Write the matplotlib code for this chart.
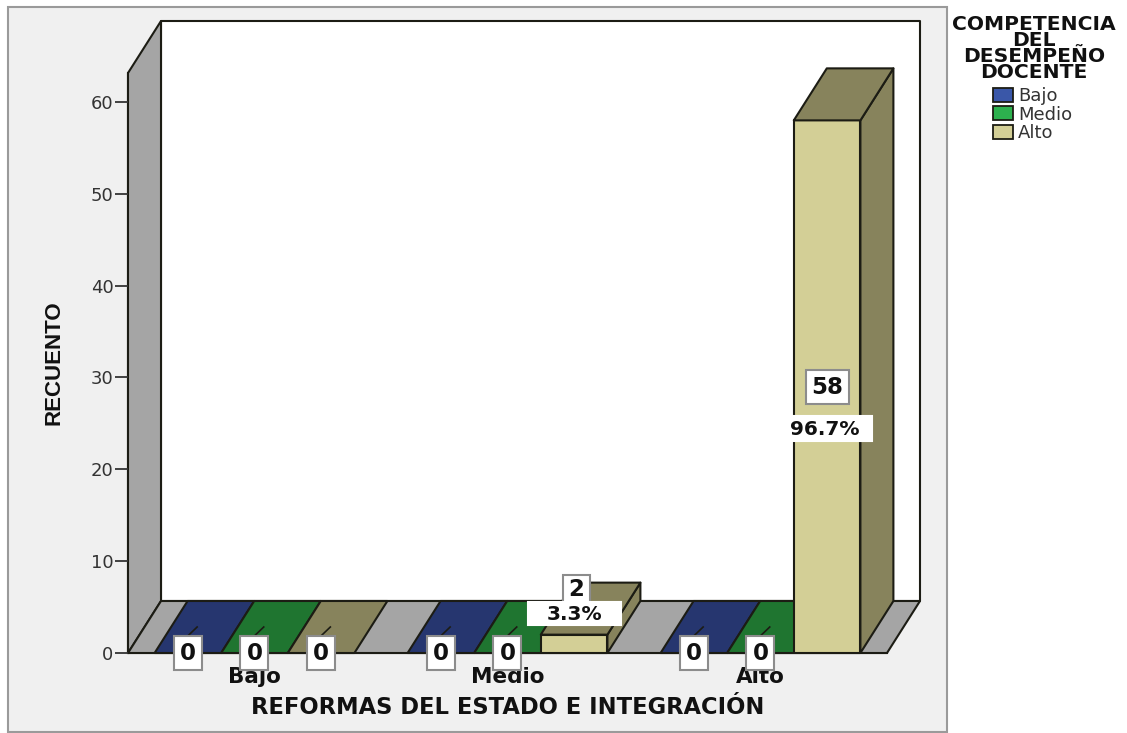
import matplotlib
matplotlib.use("Agg")
import matplotlib.pyplot as plt
from matplotlib.patches import Polygon, Rectangle

categories = ["Bajo", "Medio", "Alto"]
series_names = ["Bajo", "Medio", "Alto"]
bajo_counts = [0, 0, 0]
medio_counts = [0, 0, 0]
alto_counts = [0, 2, 58]
alto_percent = [None, "3.3%", "96.7%"]
y_ticks = [0, 10, 20, 30, 40, 50, 60]

front_colors = ["#2f4a96", "#25a046", "#d3cf96"]
top_colors = ["#26366f", "#1f7530", "#87835c"]
legend_colors = ["#3a57a8", "#2db14e", "#d3cf96"]
edge = "#1c1c14"

W, H = 1127, 733
AX_L, AX_R, AX_T, AX_B = 128, 887, 73, 653
PX_X = (AX_R - AX_L) / 3.0
PX_Y = 551.0 / 60.0
DX = 33 / PX_X
DY = 52 / PX_Y
BAR_W = 66.6 / PX_X

plt.rcParams["font.family"] = ["DejaVu Sans"]

fig = plt.figure(figsize=(W / 100, H / 100), dpi=100, facecolor="white")
fig.add_artist(Rectangle((8 / W, 1 - 732 / H), 939 / W, 725 / H, transform=fig.transFigure,
                         facecolor="#f0f0f0", edgecolor="#9a9a9a", linewidth=1.5, zorder=-1))

ax = fig.add_axes([AX_L / W, 1 - AX_B / H, (AX_R - AX_L) / W, (AX_B - AX_T) / H])
ax.set_xlim(-0.5, 2.5)
ax.set_ylim(0, (AX_B - AX_T) / PX_Y)
ax.patch.set_visible(False)
for side in ["top", "right"]:
    ax.spines[side].set_visible(False)
for side in ["left", "bottom"]:
    ax.spines[side].set_linewidth(1.5)
    ax.spines[side].set_color(edge)
    ax.spines[side].set_zorder(1)


def face(points, color, z=2):
    ax.add_patch(Polygon(points, closed=True, facecolor=color, edgecolor=edge,
                         linewidth=1.5, clip_on=False, zorder=z, joinstyle="round"))


def bar3d(left, width, value, front, top, z):
    right = left + width
    if value > 0:
        face([(right, 0), (right + DX, DY), (right + DX, value + DY), (right, value)], top, z)
        face([(left, 0), (right, 0), (right, value), (left, value)], front, z)
    face([(left, value), (right, value), (right + DX, value + DY), (left + DX, value + DY)], top, z)


def boxed_label(x, y, text, off_px, box_px, fontsize, box_edge, z):
    # box size is given in pixels, so it does not follow the text extent
    cx = x + off_px[0] / PX_X
    cy = y + off_px[1] / PX_Y
    w = box_px[0] / PX_X
    h = box_px[1] / PX_Y
    ax.add_patch(Rectangle((cx - w / 2, cy - h / 2), w, h, facecolor="white", edgecolor=box_edge,
                           linewidth=1.5, clip_on=False, zorder=z))
    ax.text(cx, cy + 1.5 / PX_Y, text, ha="center", va="center_baseline", fontsize=fontsize, fontweight="bold",
            color="#111111", clip_on=False, zorder=z + 0.1)


# walls and floor
x0, x1 = -0.5, 2.5
top = ax.get_ylim()[1]
face([(x0 + DX, DY), (x1 + DX, DY), (x1 + DX, top + DY), (x0 + DX, top + DY)], "white", 1)
face([(x0, 0), (x0 + DX, DY), (x0 + DX, top + DY), (x0, top)], "#a5a5a5", 1.2)
face([(x0, 0), (x1, 0), (x1 + DX, DY), (x0 + DX, DY)], "#a5a5a5", 1.2)

all_counts = [bajo_counts, medio_counts, alto_counts]
z = 3
for i in range(len(categories)):
    for j in range(len(series_names)):
        value = all_counts[j][i]
        left = i + (j - 1.5) * BAR_W
        bar3d(left, BAR_W, value, front_colors[j], top_colors[j], z)
        z += 0.1
        centre = left + BAR_W / 2
        if value == 0:
            # leader from the label up into the bar top
            ax.plot([centre, centre + DX * 0.28], [DY * 0.33, DY * 0.5], color=edge, lw=1.2,
                    clip_on=False, zorder=z)
            boxed_label(centre, 0, str(value), (0, 0), (28, 34), 16.5, "#8c8c8c", 20)
        elif value < 5:
            boxed_label(centre, value / 2, str(value), (2, 55), (27, 28), 16.5, "#8c8c8c", 20)
            boxed_label(centre, value / 2, alto_percent[i], (0, 30), (93, 23), 14.5, "white", 21)
        else:
            boxed_label(centre, value / 2, str(value), (0, 0), (43, 34), 16.5, "#8c8c8c", 20)
            boxed_label(centre, value / 2, alto_percent[i], (-2, -42), (93, 25), 14.5, "white", 21)

ax.set_yticks(y_ticks)
ax.tick_params(axis="y", length=9.4, width=1.3, color="#333333", labelsize=13, labelcolor="#333333", pad=1)
ax.set_xticks(range(len(categories)))
ax.set_xticklabels(categories, fontsize=15.5, fontweight="bold", color="#111111")
ax.tick_params(axis="x", length=0, pad=10)
ax.set_xlabel("REFORMAS DEL ESTADO E INTEGRACIÓN", fontsize=16.3, fontweight="bold", color="#111111", va="center")
ax.xaxis.set_label_coords(0.5, (AX_B - 708) / (AX_B - AX_T))
ax.set_ylabel("RECUENTO", fontsize=16, fontweight="bold", color="#111111", va="center", family="Liberation Sans")
ax.yaxis.set_label_coords((54 - AX_L) / (AX_R - AX_L), 0.5)

fig.text(1034 / W, 1 - 48.5 / H, "COMPETENCIA\nDEL\nDESEMPEÑO\nDOCENTE", ha="center", va="center",
         fontsize=14.6, fontweight="bold", color="#111111", linespacing=0.82)

handles = [Rectangle((0, 0), 1, 1, facecolor=c, edgecolor=edge, linewidth=1.3) for c in legend_colors]
leg = fig.legend(handles, series_names, loc="upper left", bbox_to_anchor=(993 / W, 1 - 87 / H), frameon=False,
                 fontsize=13, labelcolor="#333333", handlelength=1.1, handleheight=0.8,
                 handletextpad=0.3, labelspacing=0.03, borderpad=0, borderaxespad=0)

fig.savefig("out.png", dpi=100)
